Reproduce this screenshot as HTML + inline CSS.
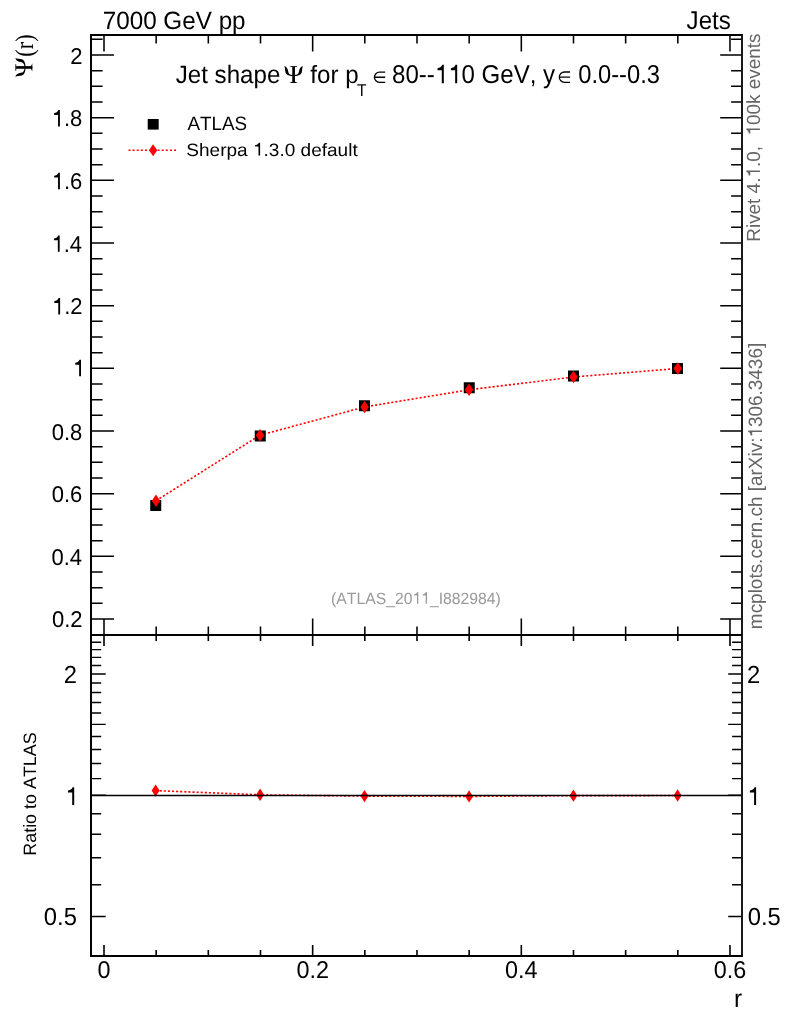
<!DOCTYPE html><html><head><meta charset="utf-8"><style>html,body{margin:0;padding:0;background:#fff;overflow:hidden;}svg{display:block;}text{font-kerning:none;}</style></head><body>
<svg width="786" height="1024" viewBox="0 0 786 1024" font-family='"Liberation Sans", sans-serif' text-rendering="geometricPrecision">
<rect width="786" height="1024" fill="#fff"/>
<path d="M92 618.99h22M741 618.99h-20.8M92 603.33h10.6M741 603.33h-9.9M92 587.66h10.6M741 587.66h-9.9M92 571.99h10.6M741 571.99h-9.9M92 556.33h22M741 556.33h-20.8M92 540.66h10.6M741 540.66h-9.9M92 525.00h10.6M741 525.00h-9.9M92 509.33h10.6M741 509.33h-9.9M92 493.66h22M741 493.66h-20.8M92 478.00h10.6M741 478.00h-9.9M92 462.33h10.6M741 462.33h-9.9M92 446.66h10.6M741 446.66h-9.9M92 431.00h22M741 431.00h-20.8M92 415.33h10.6M741 415.33h-9.9M92 399.66h10.6M741 399.66h-9.9M92 384.00h10.6M741 384.00h-9.9M92 368.33h22M741 368.33h-20.8M92 352.66h10.6M741 352.66h-9.9M92 337.00h10.6M741 337.00h-9.9M92 321.33h10.6M741 321.33h-9.9M92 305.66h22M741 305.66h-20.8M92 290.00h10.6M741 290.00h-9.9M92 274.33h10.6M741 274.33h-9.9M92 258.66h10.6M741 258.66h-9.9M92 243.00h22M741 243.00h-20.8M92 227.33h10.6M741 227.33h-9.9M92 211.66h10.6M741 211.66h-9.9M92 196.00h10.6M741 196.00h-9.9M92 180.33h22M741 180.33h-20.8M92 164.67h10.6M741 164.67h-9.9M92 149.00h10.6M741 149.00h-9.9M92 133.33h10.6M741 133.33h-9.9M92 117.67h22M741 117.67h-20.8M92 102.00h10.6M741 102.00h-9.9M92 86.33h10.6M741 86.33h-9.9M92 70.67h10.6M741 70.67h-9.9M92 55.00h22M741 55.00h-20.8M92 39.33h10.6M741 39.33h-9.9M104.00 36v15.5M104.00 634v-15.5M156.16 36v7.5M156.16 634v-7.5M208.33 36v7.5M208.33 634v-7.5M260.50 36v7.5M260.50 634v-7.5M312.66 36v15.5M312.66 634v-15.5M364.82 36v7.5M364.82 634v-7.5M416.99 36v7.5M416.99 634v-7.5M469.16 36v7.5M469.16 634v-7.5M521.32 36v15.5M521.32 634v-15.5M573.49 36v7.5M573.49 634v-7.5M625.65 36v7.5M625.65 634v-7.5M677.82 36v7.5M677.82 634v-7.5M729.98 36v15.5M729.98 634v-15.5" stroke="#000" stroke-width="1.55" fill="none"/>
<path d="M92 916.55h13.7M741 916.55h-12.8M92 884.66h9.2M741 884.66h-8.9M92 857.69h9.2M741 857.69h-8.9M92 834.34h9.2M741 834.34h-8.9M92 813.73h9.2M741 813.73h-8.9M92 795.30h13.7M741 795.30h-12.8M92 778.63h9.2M741 778.63h-8.9M92 763.41h9.2M741 763.41h-8.9M92 749.40h9.2M741 749.40h-8.9M92 736.44h9.2M741 736.44h-8.9M92 724.37h13.7M741 724.37h-12.8M92 713.08h9.2M741 713.08h-8.9M92 702.48h9.2M741 702.48h-8.9M92 692.48h9.2M741 692.48h-8.9M92 683.02h9.2M741 683.02h-8.9M92 674.05h13.7M741 674.05h-12.8M92 665.51h9.2M741 665.51h-8.9M92 657.37h9.2M741 657.37h-8.9M92 649.60h9.2M741 649.60h-8.9M92 642.15h9.2M741 642.15h-8.9" stroke="#000" stroke-width="1.45" fill="none"/>
<path d="M104.00 636v10M104.00 955v-10M156.16 636v5M156.16 955v-5M208.33 636v5M208.33 955v-5M260.50 636v5M260.50 955v-5M312.66 636v10M312.66 955v-10M364.82 636v5M364.82 955v-5M416.99 636v5M416.99 955v-5M469.16 636v5M469.16 955v-5M521.32 636v10M521.32 955v-10M573.49 636v5M573.49 955v-5M625.65 636v5M625.65 955v-5M677.82 636v5M677.82 955v-5M729.98 636v10M729.98 955v-10" stroke="#000" stroke-width="1.6" fill="none"/>
<path d="M91 35H742M91 956H742M91 34V957M91 635H742" stroke="#000" stroke-width="2" fill="none"/>
<path d="M742 34V957" stroke="#000" stroke-width="1.8" fill="none"/>
<polyline points="156.00,500.70 260.00,435.20 364.65,406.95 469.00,389.80 573.50,377.00 677.80,368.50" fill="none" stroke="#f00" stroke-width="1.6" stroke-dasharray="2.1 2"/>
<path d="M150.25 500.00h11v11h-11ZM254.75 430.60h11v11h-11ZM359.00 400.25h11v11h-11ZM463.75 382.25h11v11h-11ZM568.00 370.55h11v11h-11ZM672.00 362.90h11v11h-11Z" fill="#000"/>
<path d="M156.00 494.50L160.20 500.70L156.00 506.90L151.80 500.70ZM260.00 429.00L264.20 435.20L260.00 441.40L255.80 435.20ZM364.65 400.75L368.85 406.95L364.65 413.15L360.45 406.95ZM469.00 383.60L473.20 389.80L469.00 396.00L464.80 389.80ZM573.50 370.80L577.70 377.00L573.50 383.20L569.30 377.00ZM677.80 362.30L682.00 368.50L677.80 374.70L673.60 368.50Z" fill="#f00"/>
<polyline points="155.60,790.60 260.10,794.80 364.50,796.10 469.10,796.40 573.40,795.65 677.60,795.55" fill="none" stroke="#f00" stroke-width="1.6" stroke-dasharray="2.1 2"/>
<path d="M155.60 784.40L159.60 790.60L155.60 796.80L151.60 790.60ZM260.10 788.60L264.10 794.80L260.10 801.00L256.10 794.80ZM364.50 789.90L368.50 796.10L364.50 802.30L360.50 796.10ZM469.10 790.20L473.10 796.40L469.10 802.60L465.10 796.40ZM573.40 789.45L577.40 795.65L573.40 801.85L569.40 795.65ZM677.60 789.35L681.60 795.55L677.60 801.75L673.60 795.55Z" fill="#f00"/>
<path d="M92 795.5H741" stroke="#000" stroke-width="1.3"/>
<path d="M147.7 119h11v10.6h-11Z" fill="#000"/>
<path d="M128.5 150.3H149M157.6 150.3H177" stroke="#f00" stroke-width="1.4" stroke-dasharray="2 2.1"/>
<path d="M153.10 144.20L157.25 150.20L153.10 156.20L148.95 150.20Z" fill="#f00"/>
<g style="filter:grayscale(1)">
<text transform="translate(102.69,29) scale(1,1.0306)" font-size="24.259" fill="#000">7000 GeV pp</text>
<text transform="translate(686.62,29) scale(1,1.0704)" font-size="24.101" fill="#000">Jets</text>
<text transform="translate(175.72,83.3) scale(1,1.0412)" font-size="24.145" fill="#000">Jet shape</text>
<text transform="translate(310.36,83.3) scale(1,1.0350)" font-size="24.154" fill="#000">for p</text>
<text transform="translate(356.89,95.7) scale(1,1.0953)" font-size="15.614" fill="#000">T</text>
<text transform="translate(392.04,83.3) scale(1,1.0745)" font-size="24.065" fill="#000">80--  0 GeV, y</text><path transform="translate(434.833,83.3) scale(24.065,25.857)" d="M0.3726 0L0.2886 0L0.2886-0.506L0.112-0.506L0.112-0.586C0.2-0.59 0.27-0.63 0.305-0.716L0.3726-0.716Z" fill="#000"/><path transform="translate(448.217,83.3) scale(24.065,25.857)" d="M0.3726 0L0.2886 0L0.2886-0.506L0.112-0.506L0.112-0.586C0.2-0.59 0.27-0.63 0.305-0.716L0.3726-0.716Z" fill="#000"/>
<text transform="translate(578.25,83.3) scale(1,1.0901)" font-size="23.720" fill="#000">0.0--0.3</text>
<text transform="translate(187.5,129.6) scale(1,1.0309)" font-size="18.846" fill="#000">ATLAS</text>
<text transform="translate(186.3,155.6) scale(1,0.9408)" font-size="19.045" fill="#000">Sherpa  .3.0 default</text><path transform="translate(253.001,155.6) scale(19.045,17.917)" d="M0.3726 0L0.2886 0L0.2886-0.506L0.112-0.506L0.112-0.586C0.2-0.59 0.27-0.63 0.305-0.716L0.3726-0.716Z" fill="#000"/>
<text transform="translate(331.06,603.7) scale(1,1.0323)" font-size="15.741" fill="#999">(ATLAS_20  _I882984)</text><path transform="translate(412.428,603.7) scale(15.741,16.250)" d="M0.3726 0L0.2886 0L0.2886-0.506L0.112-0.506L0.112-0.586C0.2-0.59 0.27-0.63 0.305-0.716L0.3726-0.716Z" fill="#999"/><path transform="translate(421.182,603.7) scale(15.741,16.250)" d="M0.3726 0L0.2886 0L0.2886-0.506L0.112-0.506L0.112-0.586C0.2-0.59 0.27-0.63 0.305-0.716L0.3726-0.716Z" fill="#999"/>
<text transform="translate(734.09,1006.8) scale(1,1.0322)" font-size="24.400" fill="#000">r</text>
<text transform="translate(32.8,56.64) rotate(-90) scale(1,1.1593)" font-size="22.253" fill="#000" font-family='"Liberation Serif", serif'>(r)</text>
<g transform="translate(35.9,855.73) rotate(-90)"><text transform="translate(0,0) scale(1,1.0000)" font-size="17.917" fill="#000">Ratio to ATLAS</text></g>
<g transform="translate(759.9,241.71) rotate(-90)"><text transform="translate(0,0) scale(1,1.0059)" font-size="18.916" fill="#666">Rivet 4. .0,   00k events</text><path transform="translate(64.129,0) scale(18.916,19.028)" d="M0.3726 0L0.2886 0L0.2886-0.506L0.112-0.506L0.112-0.586C0.2-0.59 0.27-0.63 0.305-0.716L0.3726-0.716Z" fill="#666"/><path transform="translate(106.193,0) scale(18.916,19.028)" d="M0.3726 0L0.2886 0L0.2886-0.506L0.112-0.506L0.112-0.586C0.2-0.59 0.27-0.63 0.305-0.716L0.3726-0.716Z" fill="#666"/></g>
<g transform="translate(762,629.13) rotate(-90)"><text transform="translate(0,0) scale(1,1.0190)" font-size="18.945" fill="#666">mcplots.cern.ch [arXiv: 306.3436]</text><path transform="translate(191.617,0) scale(18.945,19.306)" d="M0.3726 0L0.2886 0L0.2886-0.506L0.112-0.506L0.112-0.586C0.2-0.59 0.27-0.63 0.305-0.716L0.3726-0.716Z" fill="#666"/></g>
<g transform="translate(293.6,83)" fill="#000"><path d="M-9.46 -16.95C-8.50 -15.60 -8.60 -12.50 -8.10 -10.40C-7.60 -8.30 -5.00 -7.00 -1.00 -6.80L-1.00 -7.90C-3.50 -8.10 -5.10 -9.00 -5.40 -11.50C-5.70 -14.00 -6.80 -16.30 -9.46 -16.95Z"/><path d="M9.46 -16.95C8.50 -15.60 8.60 -12.50 8.10 -10.40C7.60 -8.30 5.00 -7.00 1.00 -6.80L1.00 -7.90C3.50 -8.10 5.10 -9.00 5.40 -11.50C5.70 -14.00 6.80 -16.30 9.46 -16.95Z"/><path d="M-1.35 -16.2H1.35V0H-1.35Z"/><path d="M-3.3 -16.95H3.3V-16.1H-3.3Z"/><path d="M-4.15 0H4.15C3.2 -0.35 2.2 -0.9 1.5 -1.25H-1.5C-2.2 -0.9 -3.2 -0.35 -4.15 0Z"/></g>
<g transform="translate(32.3,67.45) rotate(-90)" fill="#000"><path d="M-9.46 -16.95C-8.50 -15.60 -8.60 -12.50 -8.10 -10.40C-7.60 -8.30 -5.00 -7.00 -1.00 -6.80L-1.00 -7.90C-3.50 -8.10 -5.10 -9.00 -5.40 -11.50C-5.70 -14.00 -6.80 -16.30 -9.46 -16.95Z"/><path d="M9.46 -16.95C8.50 -15.60 8.60 -12.50 8.10 -10.40C7.60 -8.30 5.00 -7.00 1.00 -6.80L1.00 -7.90C3.50 -8.10 5.10 -9.00 5.40 -11.50C5.70 -14.00 6.80 -16.30 9.46 -16.95Z"/><path d="M-1.35 -16.2H1.35V0H-1.35Z"/><path d="M-3.3 -16.95H3.3V-16.1H-3.3Z"/><path d="M-4.15 0H4.15C3.2 -0.35 2.2 -0.9 1.5 -1.25H-1.5C-2.2 -0.9 -3.2 -0.35 -4.15 0Z"/></g>
<path d="M385.20 72.20H379.45A5.05 5.05 0 0 0 379.45 82.30H385.20M374.70 77.25H385.20M570.10 72.00H564.45A5.15 5.15 0 0 0 564.45 82.30H570.10M559.60 77.15H570.10" stroke="#000" stroke-width="1.3" fill="none"/>
<text transform="translate(51.92,627.29) scale(1,1.0400)" font-size="22.000" fill="#000">0.2</text>
<text transform="translate(51.48,565.13) scale(1,1.0400)" font-size="22.000" fill="#000">0.4</text>
<text transform="translate(51.7,502.46) scale(1,1.0400)" font-size="22.000" fill="#000">0.6</text>
<text transform="translate(51.7,439.8) scale(1,1.0400)" font-size="22.000" fill="#000">0.8</text>
<text transform="translate(72.8,376.23) scale(1,1.0400)" font-size="22.000" fill="#000"> </text><path transform="translate(72.803,376.23) scale(22.000,22.880)" d="M0.3726 0L0.2886 0L0.2886-0.506L0.112-0.506L0.112-0.586C0.2-0.59 0.27-0.63 0.305-0.716L0.3726-0.716Z" fill="#000"/>
<text transform="translate(51.92,314.46) scale(1,1.0400)" font-size="22.000" fill="#000"> .2</text><path transform="translate(51.920,314.46) scale(22.000,22.880)" d="M0.3726 0L0.2886 0L0.2886-0.506L0.112-0.506L0.112-0.586C0.2-0.59 0.27-0.63 0.305-0.716L0.3726-0.716Z" fill="#000"/>
<text transform="translate(51.48,251.8) scale(1,1.0400)" font-size="22.000" fill="#000"> .4</text><path transform="translate(51.480,251.8) scale(22.000,22.880)" d="M0.3726 0L0.2886 0L0.2886-0.506L0.112-0.506L0.112-0.586C0.2-0.59 0.27-0.63 0.305-0.716L0.3726-0.716Z" fill="#000"/>
<text transform="translate(51.7,189.13) scale(1,1.0400)" font-size="22.000" fill="#000"> .6</text><path transform="translate(51.700,189.13) scale(22.000,22.880)" d="M0.3726 0L0.2886 0L0.2886-0.506L0.112-0.506L0.112-0.586C0.2-0.59 0.27-0.63 0.305-0.716L0.3726-0.716Z" fill="#000"/>
<text transform="translate(51.7,126.47) scale(1,1.0400)" font-size="22.000" fill="#000"> .8</text><path transform="translate(51.700,126.47) scale(22.000,22.880)" d="M0.3726 0L0.2886 0L0.2886-0.506L0.112-0.506L0.112-0.586C0.2-0.59 0.27-0.63 0.305-0.716L0.3726-0.716Z" fill="#000"/>
<text transform="translate(70.18,63.8) scale(1,1.0400)" font-size="22.000" fill="#000">2</text>
<text transform="translate(63.86,682.75) scale(1,1.0400)" font-size="23.800" fill="#000">2</text>
<text transform="translate(747.01,682.75) scale(1,1.0400)" font-size="23.800" fill="#000">2</text>
<text transform="translate(65.33,804.9) scale(1,1.0400)" font-size="23.800" fill="#000"> </text><path transform="translate(65.332,804.9) scale(23.800,24.752)" d="M0.3726 0L0.2886 0L0.2886-0.506L0.112-0.506L0.112-0.586C0.2-0.59 0.27-0.63 0.305-0.716L0.3726-0.716Z" fill="#000"/>
<text transform="translate(747.23,804.9) scale(1,1.0400)" font-size="23.800" fill="#000"> </text><path transform="translate(747.234,804.9) scale(23.800,24.752)" d="M0.3726 0L0.2886 0L0.2886-0.506L0.112-0.506L0.112-0.586C0.2-0.59 0.27-0.63 0.305-0.716L0.3726-0.716Z" fill="#000"/>
<text transform="translate(43.87,925.25) scale(1,1.0400)" font-size="23.800" fill="#000">0.5</text>
<text transform="translate(747.65,925.25) scale(1,1.0400)" font-size="23.800" fill="#000">0.5</text>
<text transform="translate(97.45,977.9) scale(1,1.0400)" font-size="23.400" fill="#000">0</text>
<text transform="translate(296.51,977.9) scale(1,1.0400)" font-size="23.400" fill="#000">0.2</text>
<text transform="translate(504.94,977.9) scale(1,1.0400)" font-size="23.400" fill="#000">0.4</text>
<text transform="translate(713.72,977.9) scale(1,1.0400)" font-size="23.400" fill="#000">0.6</text>
</g>
</svg></body></html>
